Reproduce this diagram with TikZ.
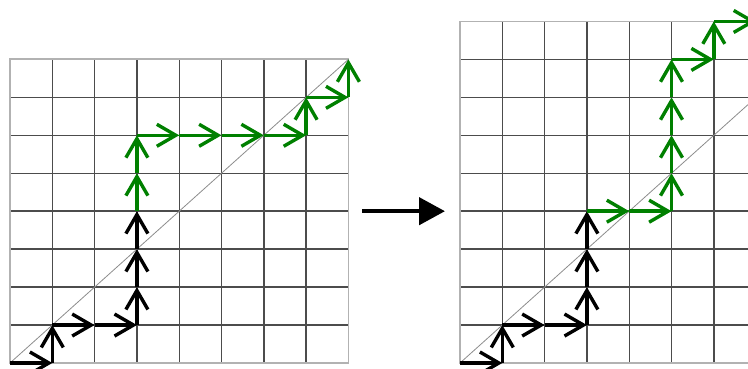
\documentclass[tikz,border=0pt]{standalone}
\usetikzlibrary{arrows.meta}

\begin{document}
\begin{tikzpicture}[x=42.3pt, y=37.95pt,
    gridline/.style={black!70, line width=1.4pt},
    gridframe/.style={black!30, line width=1.8pt},
    diagline/.style={black!45, line width=0.8pt},
    blackstep/.style={black, line width=3.4pt, -{Straight Barb[length=19pt,width=22pt]}},
    greenstep/.style={blackstep, green!50!black},
    shiftarrow/.style={black, line width=4.5pt, -{Triangle[length=26pt,width=27pt]}}]
    \clip (-10pt,-6pt) rectangle ++(748pt,369pt);

    % Left lattice
    \draw[gridline, step={(1,1)}] (0,0) grid (8,8);
    \draw[gridframe] (0,0) rectangle (8,8);
    \draw[diagline] (0,0) -- (8,8);
    \foreach \x in {0,...,8}
        \foreach \y in {0,...,8}
            \coordinate (l\x\y) at (\x,\y);

    % Right lattice
    \begin{scope}[xshift=450pt]
        \draw[gridline, step={(1,1)}] (0,0) grid (9,9);
        \draw[gridframe] (0,0) rectangle (9,9);
        \draw[diagline] (0,0) -- (9,9);
        \foreach \x in {0,...,9}
            \foreach \y in {0,...,9}
                \coordinate (r\x\y) at (\x,\y);
    \end{scope}

    % Left path
    \foreach \a/\b in {00/10,10/11,11/21,21/31,31/32,32/33,33/34}
        \draw[blackstep] (l\a) -- (l\b);
    \foreach \a/\b in {34/35,35/36,36/46,46/56,56/66,66/76,76/77,77/87,87/88}
        \draw[greenstep] (l\a) -- (l\b);

    % Right path
    \foreach \a/\b in {00/10,10/11,11/21,21/31,31/32,32/33,33/34}
        \draw[blackstep] (r\a) -- (r\b);
    \foreach \a/\b in {34/44,44/54,54/55,55/56,56/57,57/58,58/68,68/69,69/79}
        \draw[greenstep] (r\a) -- (r\b);

    % Map between the two
    \coordinate (gapstart) at ([xshift=14pt]l84);
    \coordinate (gapend) at ([xshift=-15pt]r04);
    \draw[shiftarrow] (gapstart) -- (gapend);
\end{tikzpicture}
\end{document}
